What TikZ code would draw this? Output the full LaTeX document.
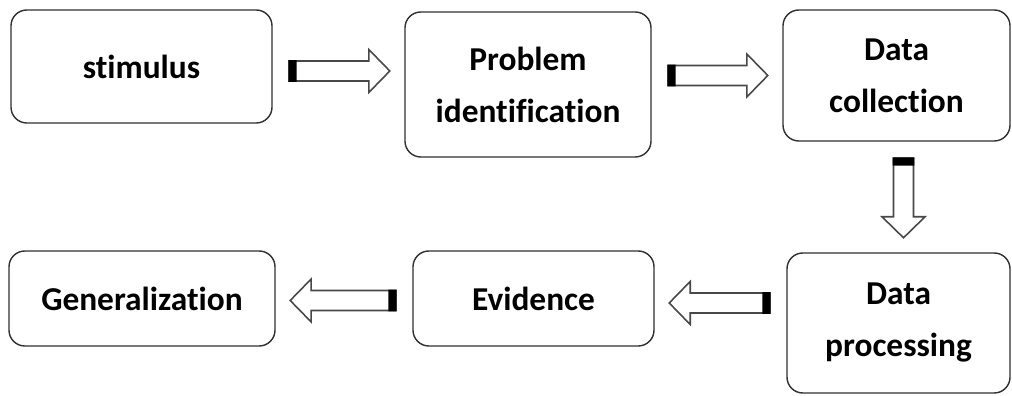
\documentclass[tikz,border=0pt]{standalone}
\usepackage{fontspec}
\setmainfont[Ligatures=NoCommon]{Carlito}
\usetikzlibrary{calc}
\definecolor{stepdark}{HTML}{303030}
\definecolor{arrowgray}{HTML}{484848}

\begin{document}
\begin{tikzpicture}[
  font=\bfseries\fontsize{19}{29.6}\selectfont,
  box/.style={draw=stepdark,rounded corners=9pt,line width=0.8pt,fill=white,
    align=center,inner sep=0pt},
  hollow/.style={draw=arrowgray,line width=0.9pt,fill=white,to path={
    let \p1=($(\tikztostart)!0.33cm!(\tikztotarget)$),
        \p2=($(\tikztotarget)!0.29cm!(\tikztostart)$),
        \n1={atan2(\y2-\y1,\x2-\x1)},
        \n2={veclen(\x2-\x1,\y2-\y1)}
    in {[shift={(\p1)},rotate=\n1]
      (0cm,-0.2cm) -- ({\n2*1pt-0.42cm},-0.2cm) -- ({\n2*1pt-0.42cm},-0.43cm)
      -- ({\n2*1pt},0cm) -- ({\n2*1pt-0.42cm},0.43cm) -- ({\n2*1pt-0.42cm},0.2cm)
      -- (0cm,0.2cm) -- cycle}}},
  tailcap/.style={fill=black,to path={
    let \p1=($(\tikztostart)!0.33cm!(\tikztotarget)$),
        \p2=($(\tikztotarget)!0.29cm!(\tikztostart)$),
        \n1={atan2(\y2-\y1,\x2-\x1)}
    in {[shift={(\p1)},rotate=\n1]
      (-0.016cm,-0.216cm) -- (0.15cm,-0.216cm) -- (0.15cm,0.216cm)
      -- (-0.016cm,0.216cm) -- cycle}}}
]
  \useasboundingbox (0,0) rectangle (20.24,7.92);

  % Top row: stimulus -> problem -> data collection
  \node[box,minimum width=5.22cm,minimum height=2.26cm] (stim) at (2.83,6.59)
    {stimulus};
  \node[box,minimum width=4.92cm,minimum height=2.90cm] (prob) at (10.56,6.23)
    {Problem\\identification};
  \node[box,minimum width=4.54cm,minimum height=2.62cm] (coll) at (17.93,6.41)
    {Data\\collection};

  % Bottom row: data processing -> evidence -> generalization
  \node[box,minimum width=4.46cm,minimum height=2.80cm] (proc) at (17.97,1.46)
    {Data\\processing};
  \node[box,minimum width=4.82cm,minimum height=1.90cm] (evid) at (10.67,1.95)
    {Evidence};
  \node[box,minimum width=5.32cm,minimum height=1.90cm] (gen) at (2.84,1.95)
    {Generalization};

  % arrow ends
  \coordinate (t1) at ([yshift=-0.09cm]stim.east);
  \coordinate (h1) at (t1 -| prob.west);
  \coordinate (t2) at ([yshift=0.18cm]prob.east);
  \coordinate (h2) at (t2 -| coll.west);
  \coordinate (t3) at ([xshift=0.14cm]coll.south);
  \coordinate (h3) at (t3 |- proc.north);
  \coordinate (t4) at ([yshift=0.40cm]proc.west);
  \coordinate (h4) at (t4 -| evid.east);
  \coordinate (t5) at ([yshift=-0.04cm]evid.west);
  \coordinate (h5) at (t5 -| gen.east);

  \draw[hollow] (t1) to (h1) (t2) to (h2) (t3) to (h3) (t4) to (h4) (t5) to (h5);
  \fill[tailcap] (t1) to (h1) (t2) to (h2) (t3) to (h3) (t4) to (h4) (t5) to (h5);
\end{tikzpicture}
\end{document}
